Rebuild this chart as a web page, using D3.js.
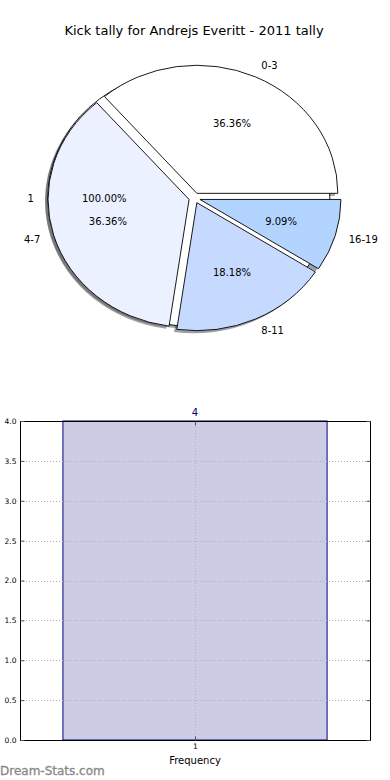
<!DOCTYPE html>
<html>
<head>
<meta charset="utf-8">
<script src="https://cdn.jsdelivr.net/npm/d3@7"></script>
<style>
  body { margin: 0; background: #fff; }
  text { font-family: "DejaVu Sans", sans-serif; }
</style>
</head>
<body>
<div id="chart"></div>
<script>
// pie data (kicks grouped by distance band)
const pieLabels = ["0-3", "4-7", "8-11", "16-19"];
const pieValues = [4, 4, 2, 1];
const pieColors = ["#ffffff", "#ebf1ff", "#c6d9ff", "#b3d4ff"];

// the single wedge pie drawn underneath
const basePieLabels = ["1"];
const basePieValues = [1];

// frequency bar
const barCats = [1];
const barValues = [4];
const yTicks = [0, 0.5, 1, 1.5, 2, 2.5, 3, 3.5, 4];

const W = 390, H = 780;
const svg = d3.select("#chart").append("svg")
  .attr("width", W)
  .attr("height", H);

svg.append("text")
  .attr("x", 194)
  .attr("y", 30)
  .attr("text-anchor", "middle")
  .attr("dominant-baseline", "central")
  .style("font-size", "13px")
  .text("Kick tally for Andrejs Everitt - 2011 tally");

// ---- pie ----
const cx = 194.5, cy = 198, rx = 141, ry = 128, explode = 0.04;

// matplotlib style: start at east, go counter clockwise
const pie = d3.pie().sort(null).startAngle(Math.PI / 2).endAngle(Math.PI / 2 - 2 * Math.PI);
const arc = d3.arc().innerRadius(0).outerRadius(1);

function layout(values, labels) {
  return pie(values).map((d, i) => {
    const mid = (d.startAngle + d.endAngle) / 2;
    return {
      arc: d,
      label: labels[i],
      pct: (100 * d.data / d3.sum(values)).toFixed(2) + "%",
      ox: cx + explode * rx * Math.sin(mid),
      oy: cy - explode * ry * Math.cos(mid),
      sx: Math.sin(mid),
      sy: -Math.cos(mid)
    };
  });
}

const basePie = layout(basePieValues, basePieLabels);
const mainPie = layout(pieValues, pieLabels);
const allWedges = basePie.map(d => Object.assign({ fill: "#ffffff" }, d))
  .concat(mainPie.map((d, i) => Object.assign({ fill: pieColors[i] }, d)));

const pieG = svg.append("g");

// shadows behind every wedge
pieG.selectAll(".shadow")
  .data(allWedges)
  .enter()
  .append("path")
  .attr("class", "shadow")
  .attr("d", d => arc(d.arc))
  .attr("transform", d => "translate(" + (d.ox - 0.02 * rx) + "," + (d.oy + 0.02 * ry) + ") scale(" + rx + "," + ry + ")")
  .style("fill", d => {
    const c = d3.rgb(d.fill);
    return d3.rgb(c.r * 0.3, c.g * 0.3, c.b * 0.3);
  })
  .style("opacity", 0.5);

pieG.selectAll(".wedge")
  .data(allWedges)
  .enter()
  .append("path")
  .attr("class", "wedge")
  .attr("d", d => arc(d.arc))
  .attr("transform", d => "translate(" + d.ox + "," + d.oy + ") scale(" + rx + "," + ry + ")")
  .attr("vector-effect", "non-scaling-stroke")
  .style("fill", d => d.fill)
  .style("stroke", "#000")
  .style("stroke-width", 0.9);

// outer labels
pieG.selectAll(".plabel")
  .data(allWedges)
  .enter()
  .append("text")
  .attr("x", d => d.ox + 1.1 * rx * d.sx)
  .attr("y", d => d.oy + 1.1 * ry * d.sy)
  .attr("text-anchor", d => d.sx > 0 ? "start" : "end")
  .attr("dominant-baseline", "central")
  .style("font-size", "10px")
  .text(d => d.label);

// percentages
pieG.selectAll(".pct")
  .data(allWedges)
  .enter()
  .append("text")
  .attr("x", d => d.ox + 0.6 * rx * d.sx)
  .attr("y", d => d.oy + 0.6 * ry * d.sy)
  .attr("text-anchor", "middle")
  .attr("dominant-baseline", "central")
  .style("font-size", "10px")
  .text(d => d.pct);

// ---- bar chart ----
const plotL = 20, plotR = 370, plotT = 421, plotB = 740;

const x = d3.scaleLinear().domain([0.47, 1.53]).range([plotL, plotR]);
const y = d3.scaleLinear().domain([0, 4]).range([plotB, plotT]);
const barW = 0.8;

const barG = svg.append("g");

barG.selectAll(".bar")
  .data(barValues)
  .enter()
  .append("rect")
  .attr("x", (d, i) => x(barCats[i] - barW / 2))
  .attr("y", d => y(d))
  .attr("width", x(barW) - x(0))
  .attr("height", d => y(0) - y(d))
  .style("fill", "#ccccE5")
  .style("stroke", "#000080")
  .style("stroke-width", 1);

barG.selectAll(".barlabel")
  .data(barValues)
  .enter()
  .append("text")
  .attr("x", (d, i) => x(barCats[i]))
  .attr("y", d => y(d) - 9)
  .attr("text-anchor", "middle")
  .attr("dominant-baseline", "central")
  .style("font-size", "10px")
  .style("fill", "#000080")
  .text(d => d);

// dotted grid on top of the bar
barG.selectAll(".hgrid")
  .data(yTicks)
  .enter()
  .append("line")
  .attr("x1", plotL)
  .attr("x2", plotR)
  .attr("y1", d => Math.round(y(d)) + 0.5)
  .attr("y2", d => Math.round(y(d)) + 0.5)
  .style("stroke", "#b0b0b0")
  .style("stroke-dasharray", "1,2");

barG.selectAll(".vgrid")
  .data(barCats)
  .enter()
  .append("line")
  .attr("x1", d => Math.round(x(d)) + 0.5)
  .attr("x2", d => Math.round(x(d)) + 0.5)
  .attr("y1", plotT)
  .attr("y2", plotB)
  .style("stroke", "#b0b0b0")
  .style("stroke-dasharray", "1,2");

// frame
barG.append("rect")
  .attr("x", plotL + 0.5)
  .attr("y", plotT + 0.5)
  .attr("width", plotR - plotL)
  .attr("height", plotB - plotT)
  .style("fill", "none")
  .style("stroke", "#000")
  .style("stroke-width", 1);

// inward ticks, left and right
const yAxisL = d3.axisLeft(y).tickValues(yTicks).tickSize(-4).tickPadding(4).tickFormat(d3.format(".1f"));
const gL = barG.append("g")
  .attr("transform", "translate(" + (plotL + 0.5) + ",0)")
  .call(yAxisL);
gL.select(".domain").remove();
gL.selectAll("text").style("font-size", "7.5px");
gL.selectAll("line").style("stroke", "#555");

const gR = barG.append("g")
  .attr("transform", "translate(" + (plotR + 0.5) + ",0)")
  .call(d3.axisRight(y).tickValues(yTicks).tickSize(-4).tickFormat(""));
gR.select(".domain").remove();
gR.selectAll("line").style("stroke", "#555");

const gB = barG.append("g")
  .attr("transform", "translate(0," + (plotB + 0.5) + ")")
  .call(d3.axisBottom(x).tickValues(barCats).tickSize(-4).tickPadding(3).tickFormat(d3.format("d")));
gB.select(".domain").remove();
gB.selectAll("text").style("font-size", "7.5px");
gB.selectAll("line").style("stroke", "#555");

const gT = barG.append("g")
  .attr("transform", "translate(0," + (plotT + 0.5) + ")")
  .call(d3.axisTop(x).tickValues(barCats).tickSize(-4).tickFormat(""));
gT.select(".domain").remove();
gT.selectAll("line").style("stroke", "#555");

svg.append("text")
  .attr("x", 195)
  .attr("y", 760)
  .attr("text-anchor", "middle")
  .attr("dominant-baseline", "central")
  .style("font-size", "10px")
  .text("Frequency");

svg.append("text")
  .attr("x", 0)
  .attr("y", 771)
  .attr("dominant-baseline", "central")
  .style("font-size", "12px")
  .style("fill", "#888")
  .style("stroke", "#888")
  .style("stroke-width", 0.3)
  .text("Dream-Stats.com");
</script>
</body>
</html>
